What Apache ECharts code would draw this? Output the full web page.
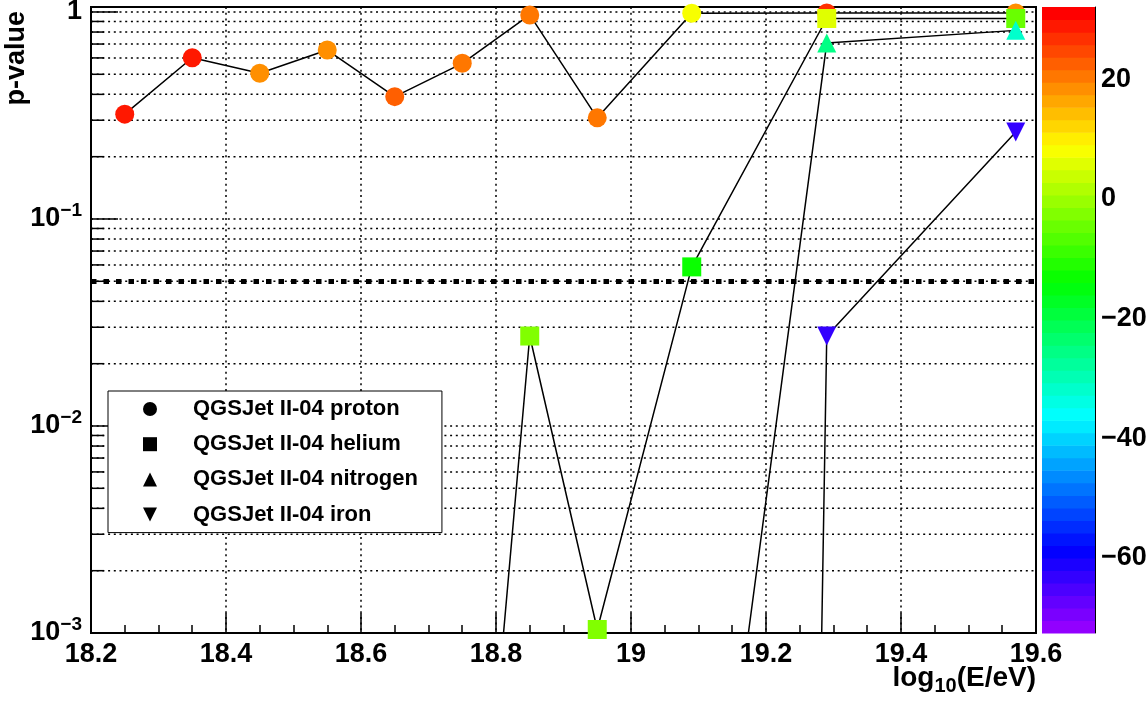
<!DOCTYPE html>
<html style="height: 100%">

<head>
    <meta charset="utf-8">
    <script src="https://cdn.jsdelivr.net/npm/echarts@6/dist/echarts.min.js"></script>
</head>

<body style="height: 100%; margin: 0; background: #fff">
    <div id="chart" style="width: 1148px; height: 705px"></div>
    <script type="text/javascript">
        // p-values per energy bin, z = colour value (colour bar)
        var eProton = [18.25, 18.35, 18.45, 18.55, 18.65, 18.75, 18.85, 18.95, 19.09, 19.29, 19.57];
        var pProton = [0.321, 0.601, 0.506, 0.655, 0.390, 0.565, 0.968, 0.308, 0.986, 0.99, 0.99];
        var zProton = [28.5, 29.5, 18.5, 18.5, 22.6, 20.6, 20.6, 20.6, 8.0, 26.9, 18.5];

        var eHelium = [18.75, 18.85, 18.95, 19.09, 19.29, 19.57];
        var pHelium = [5.5e-6, 0.0272, 0.00104, 0.0587, 0.930, 0.930];
        var zHelium = [0, -2.45, -2.45, -12.9, 5.9, -4.5];

        var eNitrogen = [19.09, 19.29, 19.57];
        var pNitrogen = [8.7e-6, 0.708, 0.815];
        var zNitrogen = [0, -25.5, -31.8];

        var eIron = [19.09, 19.29, 19.57];
        var pIron = [1e-40, 0.0272, 0.263];
        var zIron = [0, -63.2, -63.2];

        var names = ['QGSJet II-04 proton', 'QGSJet II-04 helium', 'QGSJet II-04 nitrogen', 'QGSJet II-04 iron'];

        var xRange = [18.2, 19.6];
        var yRange = [0.001, 1.057];
        var yGridValues = [0.002, 0.003, 0.004, 0.005, 0.006, 0.007, 0.008, 0.009, 0.01,
            0.02, 0.03, 0.04, 0.05, 0.06, 0.07, 0.08, 0.09, 0.1,
            0.2, 0.3, 0.4, 0.5, 0.6, 0.7, 0.8, 0.9, 1];
        var pThreshold = 0.05;
        var zRange = [-72.6, 32.1];
        var zTicks = [-60, -40, -20, 0, 20];
        var nColors = 50;

        var FONT = '"Liberation Sans", Arial, Helvetica, sans-serif';

        // ROOT "pretty palette": violet -> red in 50 steps
        function bandColor(i) {
            var h = 280 - (i + 1) * (280 / nColors);
            return 'hsl(' + h.toFixed(1) + ',100%,50%)';
        }
        function zColor(z) {
            var i = Math.floor((z - zRange[0]) / (zRange[1] - zRange[0]) * nColors);
            i = Math.max(0, Math.min(nColors - 1, i));
            return bandColor(i);
        }
        function isPow10(v) {
            var l = Math.log10(v);
            return Math.abs(l - Math.round(l)) < 1e-6;
        }
        function points(es, ps, zs) {
            return es.map(function (e, i) {
                return { value: [e, ps[i]], itemStyle: { color: zColor(zs[i]) } };
            });
        }

        var bands = [];
        for (var i = 0; i < nColors; i++) {
            var dz = (zRange[1] - zRange[0]) / nColors;
            bands.push([0, zRange[0] + i * dz, zRange[0] + (i + 1) * dz, i]);
        }

        var downTri = 'path://M0,0L10,0L5,10Z';
        var symbols = ['circle', 'rect', 'triangle', downTri];

        function lineSeries(k, data) {
            return {
                name: names[k],
                type: 'line',
                xAxisIndex: 0,
                yAxisIndex: 0,
                data: data,
                symbol: symbols[k],
                symbolSize: 19,
                showAllSymbol: true,
                clip: true,
                silent: true,
                lineStyle: { color: '#000', width: 1.5 },
                emphasis: { disabled: true }
            };
        }

        var chart = echarts.init(document.getElementById('chart'));
        var proton = lineSeries(0, points(eProton, pProton, zProton));
        proton.markLine = {
            silent: true,
            symbol: ['none', 'none'],
            label: { show: false },
            lineStyle: { color: '#000', width: 5, type: [5.5, 7] },
            data: [{ yAxis: pThreshold }]
        };

        chart.setOption({
            animation: false,
            textStyle: { fontFamily: FONT },
            grid: [
                { left: 91, right: 112, top: 7, bottom: 72, show: true, borderColor: '#000', borderWidth: 2, backgroundColor: '#fff', outerBoundsMode: 'none', containLabel: false },
                { left: 1042, width: 53, top: 7, bottom: 72, outerBoundsMode: 'none', containLabel: false }
            ],
            legend: {
                orient: 'vertical',
                left: 108,
                top: 391,
                selectedMode: false,
                backgroundColor: '#fff',
                borderColor: '#000',
                borderWidth: 1,
                padding: [6, 24, 6, 35],
                itemWidth: 14,
                itemHeight: 14,
                itemGap: 11.2,
                textStyle: { fontSize: 22, fontWeight: 'bold', color: '#000', fontFamily: FONT, lineHeight: 24, padding: [0, 0, 0, 31] },
                data: names.map(function (n, k) {
                    return { name: n, icon: symbols[k], itemStyle: { color: '#000' } };
                })
            },
            xAxis: [{
                type: 'value',
                gridIndex: 0,
                min: xRange[0],
                max: xRange[1],
                interval: 0.2,
                axisLine: { lineStyle: { color: '#000', width: 2 } },
                axisTick: { inside: true, length: 20, lineStyle: { color: '#000', width: 1.5 } },
                minorTick: { show: true, splitNumber: 4, length: 8, lineStyle: { color: '#000', width: 1.5 } },
                axisLabel: { fontSize: 27, fontWeight: 'bold', color: '#000', margin: 8, fontFamily: FONT },
                splitLine: { show: true, lineStyle: { color: '#000', width: 1.5, type: [2, 3.7] } }
            }, {
                type: 'category',
                gridIndex: 1,
                data: ['z'],
                show: false
            }],
            yAxis: [{
                type: 'log',
                gridIndex: 0,
                min: yRange[0],
                max: yRange[1],
                axisLine: { lineStyle: { color: '#000', width: 2 } },
                axisTick: { show: false },
                splitLine: { show: false },
                axisLabel: {
                    margin: 9,
                    color: '#000',
                    formatter: function (v) {
                        if (!isPow10(v)) return '';
                        var e = Math.round(Math.log10(v));
                        if (e === 0) return '{b|1}';
                        return '{b|10}{s|\u2212' + (-e) + '}';
                    },
                    rich: {
                        b: { fontSize: 27, fontWeight: 'bold', color: '#000', fontFamily: FONT },
                        s: { fontSize: 19, fontWeight: 'bold', color: '#000', fontFamily: FONT, padding: [0, 0, 16, 0] }
                    }
                }
            }, {
                type: 'value',
                gridIndex: 1,
                position: 'right',
                min: zRange[0],
                max: zRange[1],
                axisLine: { show: true, lineStyle: { color: '#000', width: 1 } },
                axisTick: { show: true, inside: true, length: 28, customValues: zTicks, lineStyle: { color: '#000', width: 1.5 } },
                axisLabel: {
                    customValues: zTicks, margin: 6, fontSize: 27, fontWeight: 'bold', color: '#000', fontFamily: FONT,
                    formatter: function (v) { return String(v).replace('-', '\u2212'); }
                },
                splitLine: { show: false }
            }],
            series: [{
                // dotted horizontal grid and y ticks at 1..9 x 10^n
                type: 'custom',
                xAxisIndex: 0,
                yAxisIndex: 0,
                silent: true,
                clip: false,
                encode: { x: 0, y: 1 },
                data: yGridValues.map(function (v) { return [xRange[0], v]; }),
                renderItem: function (params, api) {
                    var v = api.value(1);
                    var a = api.coord([xRange[0], v]);
                    var b = api.coord([xRange[1], v]);
                    var len = isPow10(v) ? 27 : 13;
                    return {
                        type: 'group', children: [
                            { type: 'line', shape: { x1: a[0], y1: a[1], x2: b[0], y2: b[1] }, style: { stroke: '#000', lineWidth: 1.5, lineDash: [2, 3.7] } },
                            { type: 'line', shape: { x1: a[0], y1: a[1], x2: a[0] + len, y2: a[1] }, style: { stroke: '#000', lineWidth: 1.5 } }
                        ]
                    };
                }
            },
                proton,
                lineSeries(1, points(eHelium, pHelium, zHelium)),
                lineSeries(2, points(eNitrogen, pNitrogen, zNitrogen)),
                lineSeries(3, points(eIron, pIron, zIron)),
            {
                // colour bar bands
                type: 'custom',
                xAxisIndex: 1,
                yAxisIndex: 1,
                silent: true,
                encode: { x: 0, y: [1, 2] },
                data: bands,
                renderItem: function (params, api) {
                    var lo = api.coord([api.value(0), api.value(1)]);
                    var hi = api.coord([api.value(0), api.value(2)]);
                    var w = api.size([1, 0])[0];
                    return {
                        type: 'rect',
                        shape: { x: lo[0] - w / 2, y: hi[1], width: w, height: lo[1] - hi[1] + 0.6 },
                        style: { fill: bandColor(api.value(3)) }
                    };
                }
            }],
            graphic: [{
                type: 'text',
                x: 17,
                y: 11,
                rotation: Math.PI / 2,
                style: { text: 'p-value', font: 'bold 27px ' + FONT, fill: '#000', align: 'right', verticalAlign: 'middle' }
            }, {
                type: 'text',
                right: 112,
                top: 664,
                style: {
                    text: 'log{sub|10}(E/eV)',
                    font: 'bold 28px ' + FONT,
                    fill: '#000',
                    rich: { sub: { fontSize: 20, fontWeight: 'bold', fontFamily: FONT, fill: '#000', padding: [17, 0, 0, 0] } }
                }
            }]
        });
    </script>
</body>

</html>
